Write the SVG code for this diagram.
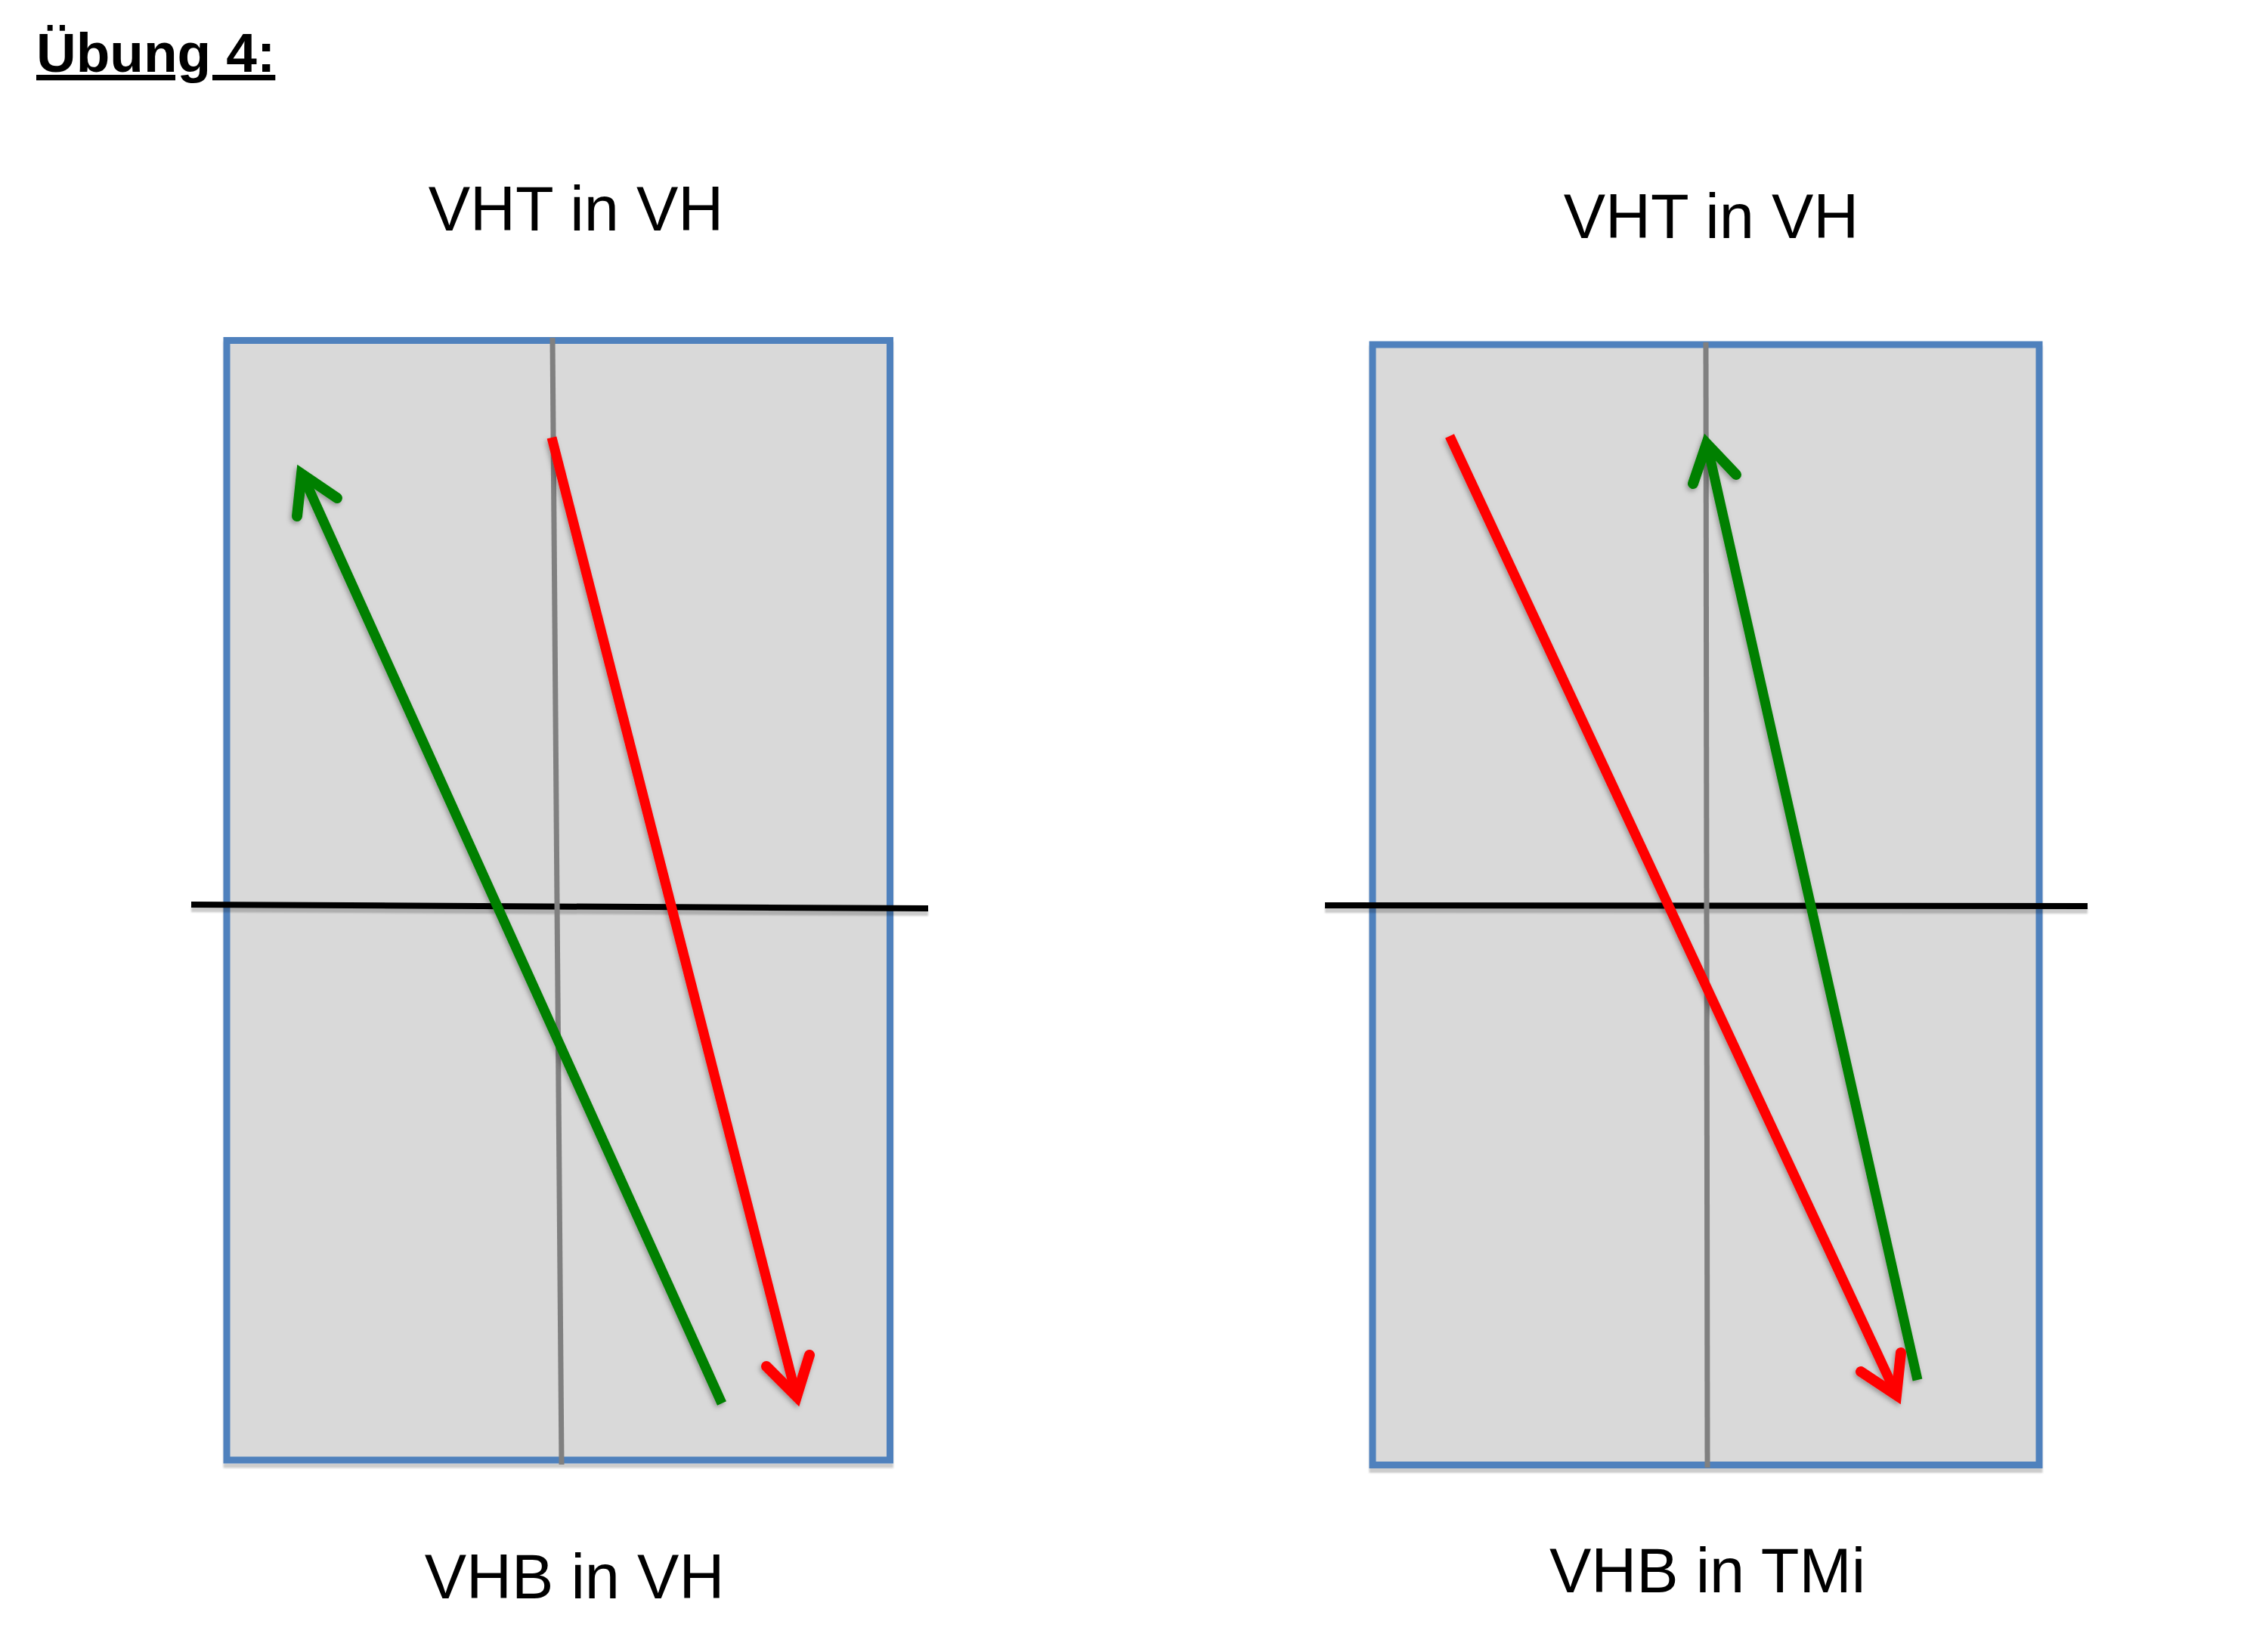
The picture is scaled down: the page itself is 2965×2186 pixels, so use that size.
<svg xmlns="http://www.w3.org/2000/svg" width="2965" height="2186" viewBox="0 0 2965 2186">
<style>
text{font-family:"Liberation Sans",Arial,sans-serif;fill:#000}
.lbl{font-size:83px;text-anchor:middle}
.title{font-size:73px;font-weight:bold;text-decoration:underline}
.panel{fill:#d9d9d9;stroke:#4f81bd;stroke-width:9}
.axis{stroke:#000;stroke-width:8;fill:none}
.mid{stroke:#808080;stroke-width:7;fill:none}
.red{stroke:#ff0000;stroke-width:13;fill:none}
.green{stroke:#008000;stroke-width:13;fill:none}
.head{stroke-width:14;stroke-linecap:round;stroke-linejoin:miter;stroke-miterlimit:10}
</style>
<defs>
<filter id="sh" filterUnits="userSpaceOnUse" x="0" y="0" width="2965" height="2186">
<feDropShadow dx="0" dy="6" stdDeviation="1" flood-color="#000" flood-opacity="0.2"/>
</filter>
<filter id="sh2" filterUnits="userSpaceOnUse" x="0" y="0" width="2965" height="2186">
<feDropShadow dx="-2" dy="3" stdDeviation="3" flood-color="#000" flood-opacity="0.3"/>
</filter>
</defs>
<rect width="2965" height="2186" fill="#fff"/>
<text id="title" class="title" x="48" y="95">Übung 4:</text>

<g id="panel-left">
<rect class="panel" x="300" y="450.5" width="877.5" height="1481.5" filter="url(#sh)"/>
<line class="axis" x1="253" y1="1197" x2="1228" y2="1202" filter="url(#sh)"/>
<line class="mid" x1="731" y1="447" x2="743" y2="1938"/>
</g>
<g id="panel-right">
<rect class="panel" x="1816" y="456" width="882" height="1482.5" filter="url(#sh)"/>
<line class="axis" x1="1753" y1="1198" x2="2762" y2="1199" filter="url(#sh)"/>
<line class="mid" x1="2257" y1="453" x2="2259" y2="1942"/>
</g>

<text id="label-top-left" class="lbl" x="762" y="305">VHT in VH</text>
<text id="label-top-right" class="lbl" x="2264" y="315">VHT in VH</text>
<text id="label-bottom-left" class="lbl" x="760" y="2115">VHB in VH</text>
<text id="label-bottom-right" class="lbl" x="2259" y="2107">VHB in TMi</text>

<g id="connectors" filter="url(#sh2)">
<g id="left-green">
<line class="green" x1="955" y1="1857" x2="401" y2="630"/>
<polyline class="green head" points="393,683 399,627 446,659"/>
</g>
<g id="left-red">
<line class="red" x1="730" y1="579" x2="1053" y2="1845"/>
<polyline class="red head" points="1014,1808 1054,1848 1071,1793"/>
</g>
<g id="right-red">
<line class="red" x1="1918" y1="577" x2="2508" y2="1843"/>
<polyline class="red head" points="2462,1815 2509,1846 2515,1790"/>
</g>
<g id="right-green">
<line class="green" x1="2537" y1="1826" x2="2259" y2="590"/>
<polyline class="green head" points="2240,640 2258,587 2297,628"/>
</g>
</g>
</svg>
